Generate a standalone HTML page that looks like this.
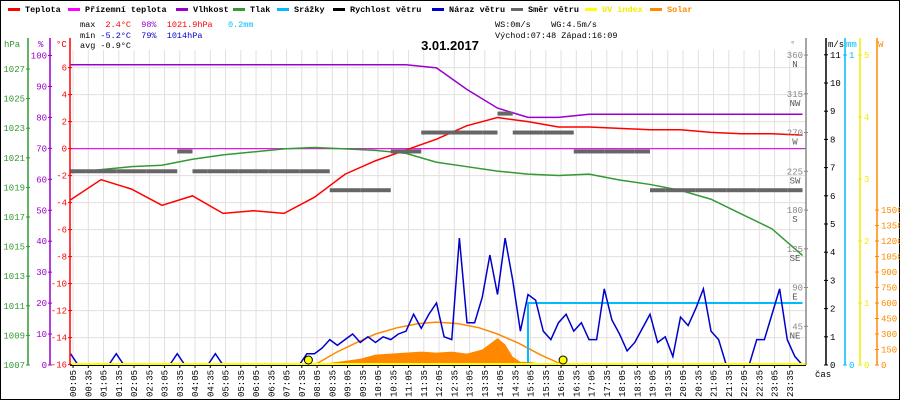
<!DOCTYPE html>
<html><head><meta charset="utf-8"><style>
body{margin:0;background:#fff;}
svg{display:block;font-family:"Liberation Mono",monospace;}
</style></head><body>
<svg id="c" width="900" height="400" viewBox="0 0 900 400">
<rect x="0.5" y="0.5" width="899" height="399" fill="#fff" stroke="#000"/>
<g id="legend" font-size="8.5" font-weight="bold">
 <g><rect x="8" y="8" width="12" height="3" fill="#f00"/><text x="25" y="12">Teplota</text></g>
 <g><rect x="68" y="8" width="12" height="3" fill="#f0f"/><text x="85" y="12">Přízemní teplota</text></g>
 <g><rect x="176" y="8" width="12" height="3" fill="#90c"/><text x="193" y="12">Vlhkost</text></g>
 <g><rect x="233" y="8" width="12" height="3" fill="#393"/><text x="250" y="12">Tlak</text></g>
 <g><rect x="277" y="8" width="12" height="3" fill="#0bf"/><text x="294" y="12">Srážky</text></g>
 <g><rect x="333" y="8" width="12" height="3" fill="#000"/><text x="350" y="12">Rychlost větru</text></g>
 <g><rect x="432" y="8" width="12" height="3" fill="#00c"/><text x="449" y="12">Náraz větru</text></g>
 <g><rect x="511" y="8" width="12" height="3" fill="#666"/><text x="528" y="12">Směr větru</text></g>
 <g><rect x="585" y="8" width="12" height="3" fill="#ff0"/><text x="602" y="12" fill="#ee0">UV index</text></g>
 <g><rect x="650" y="8" width="12" height="3" fill="#f80"/><text x="667" y="12" fill="#f80">Solar</text></g>
</g>
<g font-size="8.5">
 <text x="80" y="27" xml:space="preserve">max  <tspan fill="#f00">2.4°C</tspan>  <tspan fill="#90c">98%</tspan>  <tspan fill="#f00">1021.9hPa</tspan>   <tspan fill="#0bf">0.2mm</tspan></text>
 <text x="80" y="38" xml:space="preserve">min <tspan fill="#00c">-5.2°C</tspan>  <tspan fill="#00c">79%</tspan>  <tspan fill="#00c">1014hPa</tspan></text>
 <text x="80" y="48" xml:space="preserve">avg -0.9°C</text>
 <text x="495" y="27" xml:space="preserve">WS:0m/s    WG:4.5m/s</text>
 <text x="495" y="38" xml:space="preserve">Východ:07:48 Západ:16:09</text>
</g>
<text x="450" y="50" font-size="13" font-weight="bold" text-anchor="middle" font-family="Liberation Sans, sans-serif">3.01.2017</text>
<g id="grid"></g>
<g id="plot"></g>
<g id="axes" font-size="9"></g>
</svg>
<script>
const NS="http://www.w3.org/2000/svg";
// ---- data ----
const hours=[0,1,2,3,4,5,6,7,8,9,10,11,12,13,14,15,16,17,18,19,20,21,22,23,24];
const temperature=[-3.8,-2.3,-3.0,-4.2,-3.5,-4.8,-4.6,-4.8,-3.6,-1.9,-0.9,-0.1,0.7,1.7,2.3,2.0,1.6,1.6,1.5,1.4,1.4,1.2,1.1,1.1,1.0];
const humidity=[97,97,97,97,97,97,97,97,97,97,97,97,96,89,83,80,80,81,81,81,81,81,81,81,81];
const pressure=[1020.0,1020.2,1020.4,1020.5,1020.9,1021.2,1021.4,1021.6,1021.7,1021.6,1021.5,1021.3,1020.7,1020.4,1020.1,1019.9,1019.8,1019.9,1019.5,1019.2,1018.8,1018.2,1017.2,1016.2,1014.4];
const apparentTemp=[0,0,0,0,0,0,0,0,0,0,0,0,0,0,0,0,0,0,0,0,0,0,0,0,0];
// wind direction per half-hour (degrees)
const windDir=[225,225,225,225,225,225,225,248,225,225,225,225,225,225,225,225,225,203,203,203,203,248,248,270,270,270,270,270,292,270,270,270,270,248,248,248,248,248,203,203,203,203,203,203,203,203,203,203];
// wind gust per 15 min (m/s)
const gust=[0.4,0,0,0,0,0,0.4,0,0,0,0,0,0,0,0.4,0,0,0,0,0.4,0,0,0,0,0,0,0,0,0,0,0,0.4,0.4,0.6,0.9,0.7,0.9,1.1,0.8,1.0,0.8,1.0,0.9,1.1,1.2,1.8,1.3,1.8,2.2,1.0,0.9,4.5,1.5,1.5,2.4,3.9,2.5,4.5,3.0,1.2,2.5,2.3,1.2,0.9,1.5,1.8,1.2,1.5,0.9,0.9,2.7,1.6,1.1,0.5,0.8,1.3,1.8,0.8,1.0,0.3,1.7,1.4,2.0,2.7,1.2,0.9,0,0,0,0,0.9,0.9,1.8,2.7,0.9,0.3,0];
// cumulative rain per half-hour (mm)
const rain=[0,0,0,0,0,0,0,0,0,0,0,0,0,0,0,0,0,0,0,0,0,0,0,0,0,0,0,0,0,0,0.2,0.2,0.2,0.2,0.2,0.2,0.2,0.2,0.2,0.2,0.2,0.2,0.2,0.2,0.2,0.2,0.2,0.2];
// solar (W)
const solarTimes=[8,8.5,9,9.5,10,10.5,11,11.5,12,12.5,13,13.5,14,14.25,14.5,14.75,15,15.5,16];
const solar=[0,20,40,60,100,110,120,130,120,130,110,150,260,200,80,30,30,10,0];
const solarMax=[0,120,220,300,360,400,415,400,360,300,210,100,0];
const solarMaxTimes=[8,8.7,9.4,10,10.7,11.4,12,12.7,13.4,14,14.7,15.4,16.15];
const sunTimes=[7.8,16.15];
const xTicks=[];for(let i=0;i<48;i++){const h=Math.floor(i/2),m=i%2?35:5;xTicks.push(String(h).padStart(2,'0')+':'+String(m).padStart(2,'0'));}
const tTicks=[6,4,2,0,-2,-4,-6,-8,-10,-12,-14,-16];
const hTicks=[100,90,80,70,60,50,40,30,20,10,0];
const pTicks=[1027,1025,1023,1021,1019,1017,1015,1013,1011,1009,1007];
const dTicks=[360,315,270,225,180,135,90,45];
const dNames=['N','NW','W','SW','S','SE','E','NE'];
const wTicks=[0,1,2,3,4,5,6,7,8,9,10,11];
const uvTicks=[0,1,2,3,4,5];
const sTicks=[0,150,300,450,600,750,900,1050,1200,1350,1500];
// ---- scales ----
const X0=70.5,XW=15.25*48,YB=365;
const xs=h=>X0+h/24*XW;
const yT=t=>148.6-t*13.5;
const yH=v=>365-v*3.095;
const yP=p=>365-(p-1007)*14.8;
const yD=d=>365-d*0.861;
const yW=v=>365-v*28.2;
const yR=v=>365-v*310;
const yU=v=>365-v*62;
const yS=v=>365-v*0.1033;
const grid=document.getElementById('grid'),plot=document.getElementById('plot'),axes=document.getElementById('axes');
function el(tag,attrs,parent){const e=document.createElementNS(NS,tag);for(const k in attrs)e.setAttribute(k,attrs[k]);parent.appendChild(e);return e;}
for(let i=0;i<48;i++){const x=xs(i/2+5/60);
 const g=el('line',{x1:x,x2:x,y1:50,y2:YB,stroke:'#e4dede'},grid);
 
 
 const t=el('text',{transform:`translate(${x+3},397) rotate(-90)`,'font-size':'9'},axes);t.textContent=xTicks[i];
 
 
 const tk=el('line',{x1:x,x2:x,y1:YB,y2:YB+3,stroke:'#000'},axes);
 
 
}
tTicks.forEach(t=>{const y=yT(t);const g=el('line',{x1:70,x2:806,y1:y,y2:y,stroke:'#e4dede'},grid);
 
 });
el('line',{x1:70,x2:806,y1:yT(0),y2:yT(0),stroke:'#555'},grid);
let pts=solarTimes.map((h,i)=>xs(h)+','+yS(solar[i])).join(' ');
const sf=el('polygon',{points:xs(solarTimes[0])+','+YB+' '+pts+' '+xs(solarTimes[solarTimes.length-1])+','+YB,fill:'#f80'},plot);


const sm=el('polyline',{points:solarMaxTimes.map((h,i)=>xs(h)+','+yS(solarMax[i])).join(' '),fill:'none',stroke:'#f80','stroke-width':1.5},plot);


function line(xv,yv,sx,sy,color,name,w){const p=el('polyline',{points:xv.map((h,i)=>sx(h)+','+sy(yv[i])).join(' '),fill:'none',stroke:color,'stroke-width':w||1.5},plot);
 
 }
line(hours,apparentTemp,xs,yT,'#f0f','apparent-temp-line',1);
line(hours,humidity,xs,yH,'#90c','humidity-line');
line(hours,pressure,xs,yP,'#393','pressure-line');
line(hours,temperature,xs,yT,'#f00','temperature-line');
windDir.forEach((d,i)=>{const r=el('rect',{x:xs(i/2),y:yD(d)-2,width:15.25,height:4,fill:'#666'},plot);
 
 });
let rp=[];rain.forEach((v,i)=>{rp.push(xs(i/2)+','+yR(v));rp.push(xs(i/2+0.5)+','+yR(v));});
const rl=el('polyline',{points:rp.join(' '),fill:'none',stroke:'#0bf','stroke-width':2},plot);


let gp=[];gust.forEach((v,i)=>{gp.push(xs(i/4)+','+yW(v));});
const gl=el('polyline',{points:gp.join(' '),fill:'none',stroke:'#00c','stroke-width':1.5},plot);


el('line',{x1:70,x2:806,y1:yU(0)-1,y2:yU(0)-1,stroke:'#ff0','stroke-width':2},plot);
sunTimes.forEach(h=>{const c=el('circle',{cx:xs(h),cy:360,r:4,fill:'#ff0',stroke:'#000'},plot);
 
 });
el('line',{x1:70,x2:806,y1:YB+0.5,y2:YB+0.5,stroke:'#000'},axes);
function axis(x,color,ticks,sy,labelFn,side,title,tx){
 el('line',{x1:x,x2:x,y1:38,y2:YB,stroke:color,'stroke-width':1.5},axes);
 const tt=el('text',{x:tx,y:47,fill:color,'font-size':'9'},axes);tt.textContent=title;
 ticks.forEach((t,i)=>{const y=sy(t);el('line',{x1:x-2,x2:x+2,y1:y,y2:y,stroke:color},axes);
  const tx2=el('text',{x:side<0?x-3:x+4,y:y+3,fill:color,'text-anchor':side<0?'end':'start','font-size':'9'},axes);tx2.textContent=labelFn(t,i);
  
  });
}
axis(28,'#393',pTicks,yP,t=>t,-1,'hPa',4);
axis(50,'#90c',hTicks,yH,t=>t,-1,'%',38);
axis(70,'#f00',tTicks,yT,t=>t,-1,'°C',56);
axis(806,'#888',dTicks,yD,t=>t,-1,'°',790);
dTicks.forEach((t,i)=>{const n=el('text',{x:795,y:yD(t)+12,fill:'#555','text-anchor':'middle','font-size':'9'},axes);n.textContent=dNames[i];});
axis(826,'#000',wTicks,yW,t=>t,1,'m/s',828);
axis(845,'#0bf',[0,1],yR,t=>t,1,'mm',846);
axis(860,'#ee0',uvTicks,yU,t=>t,1,'',860);
axis(877,'#f80',sTicks,yS,t=>t==0?'0':t,1,'W',878);
const cas=el('text',{x:815,y:377,'font-size':'9'},axes);cas.textContent='čas';
</script>
</body></html>
